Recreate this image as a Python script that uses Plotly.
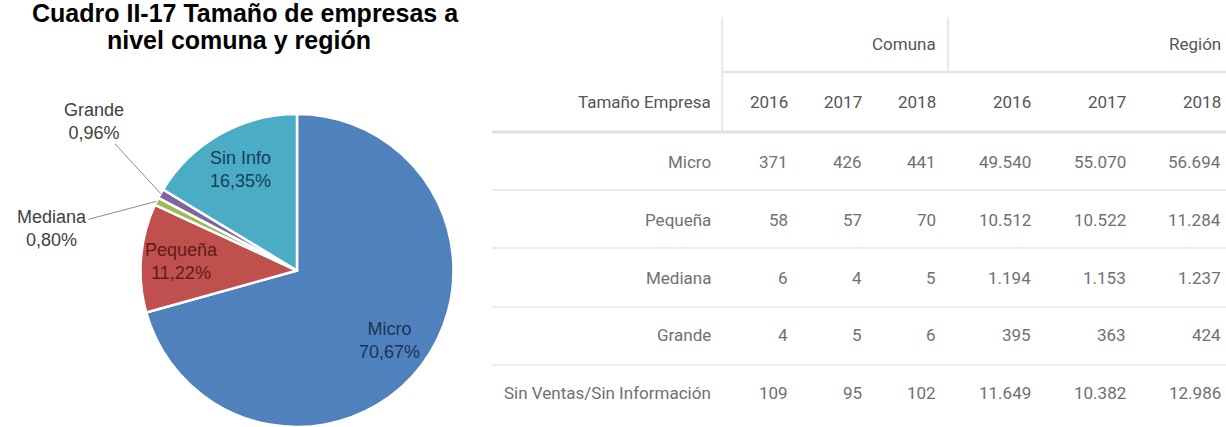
import numpy as np
import plotly.graph_objects as go

# Datos del cuadro
categorias = ["Micro", "Pequeña", "Mediana", "Grande", "Sin Ventas/Sin Información"]
comuna_2016 = [371, 58, 6, 4, 109]
comuna_2017 = [426, 57, 4, 5, 95]
comuna_2018 = [441, 70, 5, 6, 102]
region_2016 = [49540, 10512, 1194, 395, 11649]
region_2017 = [55070, 10522, 1153, 363, 10382]
region_2018 = [56694, 11284, 1237, 424, 12986]
anios = ["2016", "2017", "2018", "2016", "2017", "2018"]
grupos = ["Comuna", "Región"]

# Torta: empresas de la comuna en 2018
pie_etiquetas = ["Micro", "Pequeña", "Mediana", "Grande", "Sin Info"]
pie_valores = comuna_2018
pie_colores = ["#4f81bd", "#c0504d", "#9bbb59", "#8064a2", "#4bacc6"]
pie_texto_col = ["#1c3557", "#5e1c1a", None, None, "#173f5a"]

W, H = 1226, 427

# geometría de la torta (px)
cx, R = 297, 156.5
cy = H - R
dom_x = [(cx - R) / W, (cx + R) / W]
dom_y = [0, 2 * R / H]

fig = go.Figure()

fig.add_trace(go.Pie(
    labels=pie_etiquetas,
    values=pie_valores,
    sort=False,
    direction="clockwise",
    rotation=0,
    marker=dict(colors=pie_colores, line=dict(color="white", width=2.5)),
    textinfo="none",
    hoverinfo="label+percent",
    domain=dict(x=dom_x, y=dom_y),
    showlegend=False,
))

# eje invisible en píxeles para la tabla y las etiquetas
fig.add_trace(go.Scatter(x=[0, W], y=[0, H], mode="markers",
                         marker=dict(opacity=0), hoverinfo="skip", showlegend=False))

anot = []

# etiquetas de la torta
v = np.array(pie_valores, dtype=float)
tot = v.sum()
pct = v / tot * 100
mid = np.radians((np.cumsum(v) - v / 2) / tot * 360)
pct_txt = [f"{p:.2f}".replace(".", ",") + "%" for p in pct]
lbl_font = "Liberation Sans, Arial, sans-serif"

for i, lab in enumerate(pie_etiquetas):
    if pie_texto_col[i] is not None:
        r = 0.74 * R
        anot.append(dict(
            x=cx + r * np.sin(mid[i]), y=cy - r * np.cos(mid[i]),
            text=f"{lab}<br>{pct_txt[i]}", showarrow=False,
            font=dict(family=lbl_font, size=18, color=pie_texto_col[i]),
        ))

# etiquetas externas con línea guía
ext = {"Grande": (94, 121), "Mediana": (52, 229)}
for i, lab in enumerate(pie_etiquetas):
    if lab in ext:
        tx, ty = cx + R * np.sin(mid[i]), cy - R * np.cos(mid[i])
        lx, ly = ext[lab]
        anot.append(dict(
            x=tx, y=ty, ax=lx - tx, ay=ly - ty,
            text=f"{lab}<br>{pct_txt[i]}", showarrow=True, arrowhead=0,
            arrowwidth=1, arrowcolor="#8c8c8c", standoff=0,
            font=dict(family=lbl_font, size=18, color="#404040"),
        ))

# título
tit_font = dict(family=lbl_font, size=25, color="black", weight="bold")
anot.append(dict(x=245, y=13, text="Cuadro II-17 Tamaño de empresas a",
                 showarrow=False, font=tit_font))
anot.append(dict(x=239, y=40, text="nivel comuna y región",
                 showarrow=False, font=tit_font))

# tabla
col_der = [713, 790, 864, 938, 1033, 1128, 1223]
fila_y0, fila_h = 162, 57.8
tab_font = "Roboto, sans-serif"
cab_col = "#555555"
cel_col = "#707070"

anot.append(dict(x=938, y=44, text=grupos[0], xanchor="right", showarrow=False,
                 font=dict(family=tab_font, size=17, color=cab_col)))
anot.append(dict(x=1223, y=44, text=grupos[1], xanchor="right", showarrow=False,
                 font=dict(family=tab_font, size=17, color=cab_col)))
anot.append(dict(x=col_der[0], y=102, text="Tamaño Empresa", xanchor="right",
                 showarrow=False, font=dict(family=tab_font, size=17, color=cab_col)))
for j, a in enumerate(anios):
    anot.append(dict(x=col_der[j + 1], y=102, text=a, xanchor="right", showarrow=False,
                     font=dict(family=tab_font, size=17, color=cab_col)))

columnas = [comuna_2016, comuna_2017, comuna_2018, region_2016, region_2017, region_2018]
for i, cat in enumerate(categorias):
    y = fila_y0 + i * fila_h
    anot.append(dict(x=col_der[0], y=y, text=cat, xanchor="right", showarrow=False,
                     font=dict(family=tab_font, size=17, color=cel_col)))
    for j, col in enumerate(columnas):
        txt = f"{col[i]:,}".replace(",", ".")
        anot.append(dict(x=col_der[j + 1], y=y, text=txt, xanchor="right", showarrow=False,
                         font=dict(family=tab_font, size=17, color=cel_col)))

lineas = [
    dict(x0=722, x1=722, y0=17, y1=132, w=1.5, c="#e3e3e3"),
    dict(x0=948, x1=948, y0=17, y1=72, w=1.5, c="#e3e3e3"),
    dict(x0=722, x1=W, y0=72, y1=72, w=2.5, c="#e3e3e3"),
    dict(x0=492, x1=W, y0=132, y1=132, w=3, c="#e0e0e0"),
]
for yl in [190, 248, 307, 365]:
    lineas.append(dict(x0=492, x1=W, y0=yl, y1=yl, w=2, c="#ececec"))

shapes = [dict(type="line", xref="x", yref="y", x0=l["x0"], x1=l["x1"], y0=l["y0"],
               y1=l["y1"], line=dict(color=l["c"], width=l["w"]), layer="below")
          for l in lineas]

for a in anot:
    a.setdefault("xref", "x")
    a.setdefault("yref", "y")

fig.update_layout(
    width=W, height=H,
    margin=dict(l=0, r=0, t=0, b=0),
    paper_bgcolor="white", plot_bgcolor="rgba(0,0,0,0)",
    xaxis=dict(range=[0, W], visible=False, fixedrange=True),
    yaxis=dict(range=[H, 0], visible=False, fixedrange=True),
    annotations=anot,
    shapes=shapes,
    showlegend=False,
    separators=",.",
)

# quitar el margen del body para que la figura ocupe la ventana
fig.write_html("out.html", config={"displayModeBar": False},
               post_script="document.body.style.margin='0';")
